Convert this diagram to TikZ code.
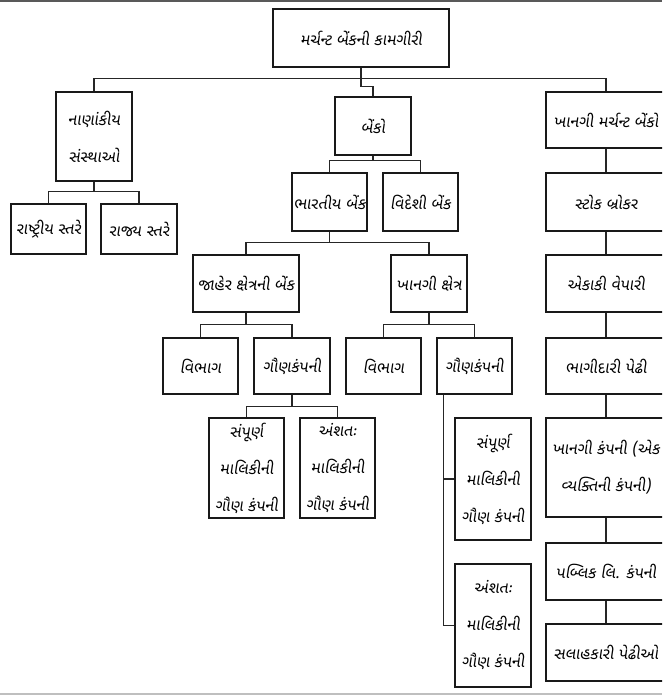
\documentclass[tikz,border=0pt]{standalone}
\usepackage{fontspec}
\newfontfamily\guj[Script=Gujarati,FakeSlant=0.15]{Noto Sans Gujarati UI}
\usetikzlibrary{calc}
\tikzset{
  box/.style={draw=black!90, line width=1.4pt, fill=white, inner sep=1pt, align=center,
    font=\guj\fontsize{16}{37}\selectfont},
  link/.style={draw=black!85, line width=1.3pt},
}
\begin{document}
\begin{tikzpicture}[x=1pt,y=-1pt]
\useasboundingbox (0,0) rectangle (662,696);
\fill[white] (0,0) rectangle (662,696);
\clip (0,0) rectangle (662,696);
\draw[black!65, line width=2pt] (0,0.5) -- (662,0.5);
\draw[black!25, line width=1.5pt] (0,694) -- (662,694);

% root
\node[box, minimum width=176, minimum height=58] (root) at (361,38) {મર્ચન્ટ બેંકની કામગીરી};
% left branch
\node[box, minimum width=76, minimum height=89] (nan) at (94,136.5) {નાણાંકીય\\સંસ્થાઓ};
\node[box, minimum width=75, minimum height=50] (rash) at (48.5,229) {રાષ્ટ્રીય સ્તરે};
\node[box, minimum width=76, minimum height=50] (rajya) at (139,229) {રાજ્ય સ્તરે};
% middle branch
\node[box, minimum width=76, minimum height=58] (banko) at (373,126) {બેંકો};
\node[box, minimum width=75, minimum height=58] (bharat) at (329.5,202) {ભારતીય બેંક};
\node[box, minimum width=75, minimum height=58] (videshi) at (420.5,202) {વિદેશી બેંક};
\node[box, minimum width=106, minimum height=57] (jaher) at (246,283.5) {જાહેર ક્ષેત્રની બેંક};
\node[box, minimum width=76, minimum height=57] (kshetra) at (429,283.5) {ખાનગી ક્ષેત્ર};
\node[box, minimum width=75, minimum height=56] (vibhagA) at (200.5,366) {વિભાગ};
\node[box, minimum width=76, minimum height=56] (gaunA) at (292,366) {ગૌણકંપની};
\node[box, minimum width=75, minimum height=56] (vibhagB) at (383.5,366) {વિભાગ};
\node[box, minimum width=75, minimum height=56] (gaunB) at (474.5,366) {ગૌણકંપની};
\node[box, minimum width=75, minimum height=100] (sampA) at (246.5,468) {સંપૂર્ણ\\માલિકીની\\ગૌણ કંપની};
\node[box, minimum width=75, minimum height=100] (anshA) at (337.5,468) {અંશતઃ\\માલિકીની\\ગૌણ કંપની};
\node[box, minimum width=76, minimum height=122] (sampB) at (493,479) {સંપૂર્ણ\\માલિકીની\\ગૌણ કંપની};
\node[box, minimum width=76, minimum height=123] (anshB) at (493,625.5) {અંશતઃ\\માલિકીની\\ગૌણ કંપની};
% right branch
\node[box, minimum width=120, minimum height=56] (pm) at (606,120) {ખાનગી મર્ચન્ટ બેંકો};
\node[box, minimum width=120, minimum height=58] (stock) at (606,202) {સ્ટોક બ્રોકર};
\node[box, minimum width=120, minimum height=57] (ekaki) at (606,283.5) {એકાકી વેપારી};
\node[box, minimum width=120, minimum height=56] (bhag) at (606,366) {ભાગીદારી પેઢી};
\node[box, minimum width=120, minimum height=99] (kamp) at (606,467.5) {ખાનગી કંપની (એક\\વ્યક્તિની કંપની)};
\node[box, minimum width=120, minimum height=57] (public) at (606,571.5) {પબ્લિક લિ. કંપની};
\node[box, minimum width=120, minimum height=57] (salah) at (606,652.5) {સલાહકારી પેઢીઓ};

% connectors
\draw[link] (nan.north) -- ++(0,-13) -| (pm.north);
\draw[link] (root.south) -- ++(0,19) -| (banko.north);

\draw[link] (rash.north) -- ++(0,-12) coordinate (b1) -| (rajya.north);
\draw[link] (nan.south) |- (b1);

\draw[link] (bharat.north) -- ++(0,-12) coordinate (b2) -| (videshi.north);
\draw[link] (banko.south) |- (b2);

\draw[link] (jaher.north) -- ++(0,-12) coordinate (b3) -| (kshetra.north);
\draw[link] (bharat.south) |- (b3);

\draw[link] (vibhagA.north) -- ++(0,-13) coordinate (b4) -| (gaunA.north);
\draw[link] (jaher.south) |- (b4);

\draw[link] (sampA.north) -- ++(0,-11) coordinate (b5) -| (anshA.north);
\draw[link] (gaunA.south) |- (b5);

\draw[link] (vibhagB.north) -- ++(0,-13) coordinate (b6) -| (gaunB.north);
\draw[link] (kshetra.south) |- (b6);

\coordinate (g) at ($(gaunB.south west)+(7,0)$);
\draw[link] (g) |- (anshB.west);
\draw[link] (g |- sampB.west) -- (sampB.west);

\draw[link] (pm.south) -- (stock.north);
\draw[link] (stock.south) -- (ekaki.north);
\draw[link] (ekaki.south) -- (bhag.north);
\draw[link] (bhag.south) -- (kamp.north);
\draw[link] (kamp.south) -- (public.north);
\draw[link] (public.south) -- (salah.north);
\end{tikzpicture}
\end{document}
